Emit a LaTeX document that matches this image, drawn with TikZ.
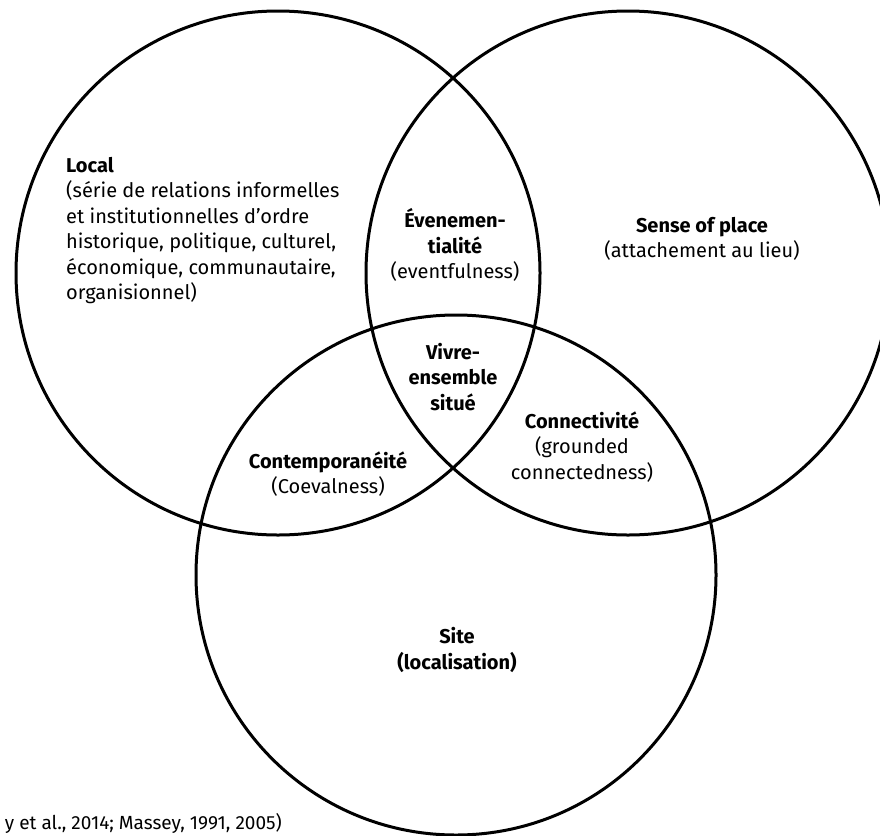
\documentclass[tikz,border=0pt]{standalone}
\usepackage{fontspec}
\setmainfont{Fira Sans}

\begin{document}
\begin{tikzpicture}[x=1pt, y=-1pt,
        ring/.style={line width=3pt},
        lbl/.style={align=center, inner sep=0pt, font=\fontsize{20}{25.5}\selectfont},
        note/.style={inner sep=0pt, font=\fontsize{19}{22}\selectfont}]
        \useasboundingbox (0,0) rectangle (880,835);
        \clip (0,0) rectangle (880,835);
        % the three sets
        \draw[ring] (278,273) circle[radius=262];
        \draw[ring] (628,273) circle[radius=262];
        \draw[ring] (456,575) circle[radius=260];
        % labels
        \node[lbl, align=left, anchor=north west] (local) at (66,157)
            {\textbf{Local}\\(série de relations informelles\\et institutionnelles d’ordre\\historique, politique, culturel,\\économique, communautaire,\\organisionnel)};
        \node[lbl] (event) at (455,245) {\textbf{Évenemen-}\\\textbf{tialité}\\(eventfulness)};
        \node[lbl] (sense) at (702,239) {\textbf{Sense of place}\\(attachement au lieu)};
        \node[lbl] (vivre) at (453,377) {\textbf{Vivre-}\\\textbf{ensemble}\\\textbf{situé}};
        \node[lbl] (contemp) at (328,474) {\textbf{Contemporanéité}\\(Coevalness)};
        \node[lbl] (connect) at (582,447) {\textbf{Connectivité}\\(grounded\\connectedness)};
        \node[lbl] (site) at (457,650) {\textbf{Site}\\\textbf{(localisation)}};
        \node[note, anchor=base east] (source) at (282,829) {y et al., 2014; Massey, 1991, 2005)};
\end{tikzpicture}
\end{document}
